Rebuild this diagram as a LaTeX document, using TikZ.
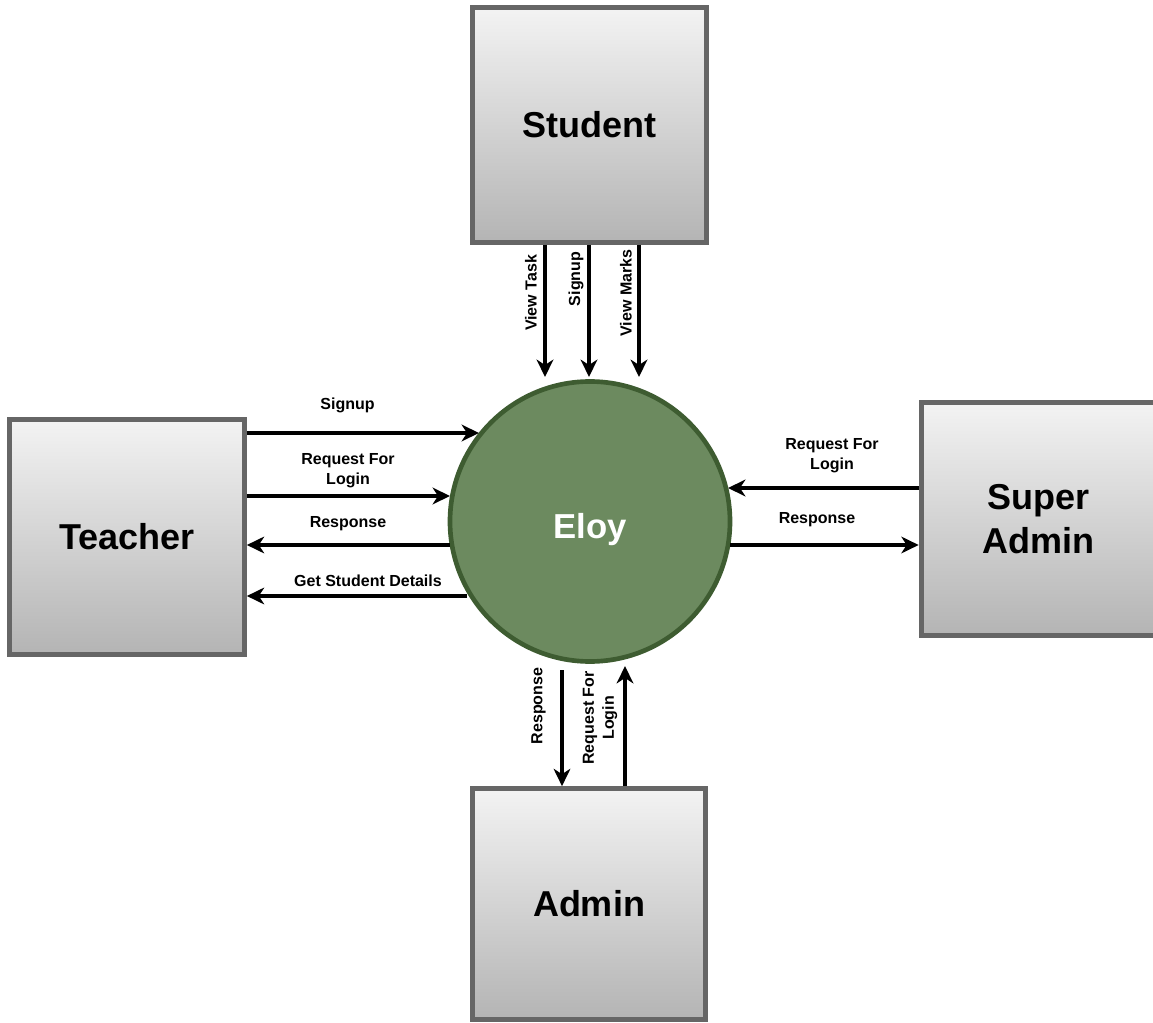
\documentclass[tikz,border=0pt]{standalone}
\usepackage{fontspec}
\setmainfont{Liberation Sans}
\usetikzlibrary{arrows.meta}
\definecolor{boxborder}{HTML}{666666}
\definecolor{boxtop}{HTML}{F3F3F3}
\definecolor{boxbottom}{HTML}{B4B4B4}
\definecolor{circfill}{HTML}{6C8A5F}
\definecolor{circdraw}{HTML}{3E5C31}
\tikzset{
  entity/.style={draw=boxborder, line width=3.75pt, top color=boxtop, bottom color=boxbottom,
    rectangle, inner sep=0pt, align=center, font=\fontsize{27}{33}\selectfont\bfseries},
  proc/.style={draw=circdraw, line width=3.5pt, fill=circfill, circle, inner sep=0pt,
    minimum size=210pt, text=white, text height=25pt, text depth=0pt,
    font=\fontsize{26}{30}\selectfont\bfseries},
  flow/.style={line width=2.3pt, -{Stealth[length=13pt, width=12.5pt, inset=4pt]}},
  lbl/.style={inner sep=0pt, align=center, font=\fontsize{12}{15}\selectfont\bfseries},
}
\begin{document}
\begin{tikzpicture}[x=0.75pt, y=-0.75pt]
\useasboundingbox (0,0) rectangle (1153,1023);
% entities
\node[entity, minimum width=175.5pt, minimum height=176pt] (stu) at (589.5,125) {Student};
\node[entity, minimum width=176pt, minimum height=176pt] (tea) at (127,537) {Teacher};
\node[entity, minimum width=176pt, minimum height=175pt] (sup) at (1038.5,519) {Super\\Admin};
\node[entity, minimum width=175pt, minimum height=173pt] (adm) at (589,904) {Admin};
% process
\node[proc] (eloy) at (590,521.5) {Eloy};
% free ends of flows
\coordinate (s1) at (545,377);
\coordinate (s2) at (589,377);
\coordinate (s3) at (639,377);
\coordinate (a1) at (562,670);
\coordinate (a2) at (625,666);
% student flows
\draw[flow] (stu.south -| s1) -- (s1);
\draw[flow] (stu.south -| s2) -- (s2);
\draw[flow] (stu.south -| s3) -- (s3);
% teacher flows
\draw[flow] (tea.east |- 0,433) -- (479,433) coordinate (t1);
\draw[flow] (tea.east |- 0,496) -- (450,496) coordinate (t2);
\draw[flow] (450,545) coordinate (t3) -- (tea.east |- t3);
\draw[flow] (467,596) coordinate (t4) -- (tea.east |- t4);
% super admin flows
\draw[flow] (sup.west |- 0,488) -- (728,488);
\draw[flow] (730,545) coordinate (u2) -- (sup.west |- u2);
% admin flows
\draw[flow] (a1) -- (adm.north -| a1);
\draw[flow] (adm.north -| a2) -- (a2);
% labels
\node[lbl, rotate=90] (lvt) at (531,293) {View Task};
\node[lbl, rotate=90] (lsg) at (576,279) {Signup};
\node[lbl, rotate=90] (lvm) at (626,293) {View Marks};
\node[lbl] (ltsg) at (347.5,405) {Signup};
\node[lbl] (ltrl) at (348,471) {Request For\\Login};
\node[lbl] (ltrs) at (348,524) {Response};
\node[lbl] (ltgs) at (368,581) {Get Student Details};
\node[lbl] (lurl) at (832,456) {Request For\\Login};
\node[lbl] (lurs) at (817,520) {Response};
\node[lbl, rotate=90] (lars) at (538.5,706) {Response};
\node[lbl, rotate=90] (larl) at (600,718) {Request For\\Login};
\end{tikzpicture}
\end{document}
